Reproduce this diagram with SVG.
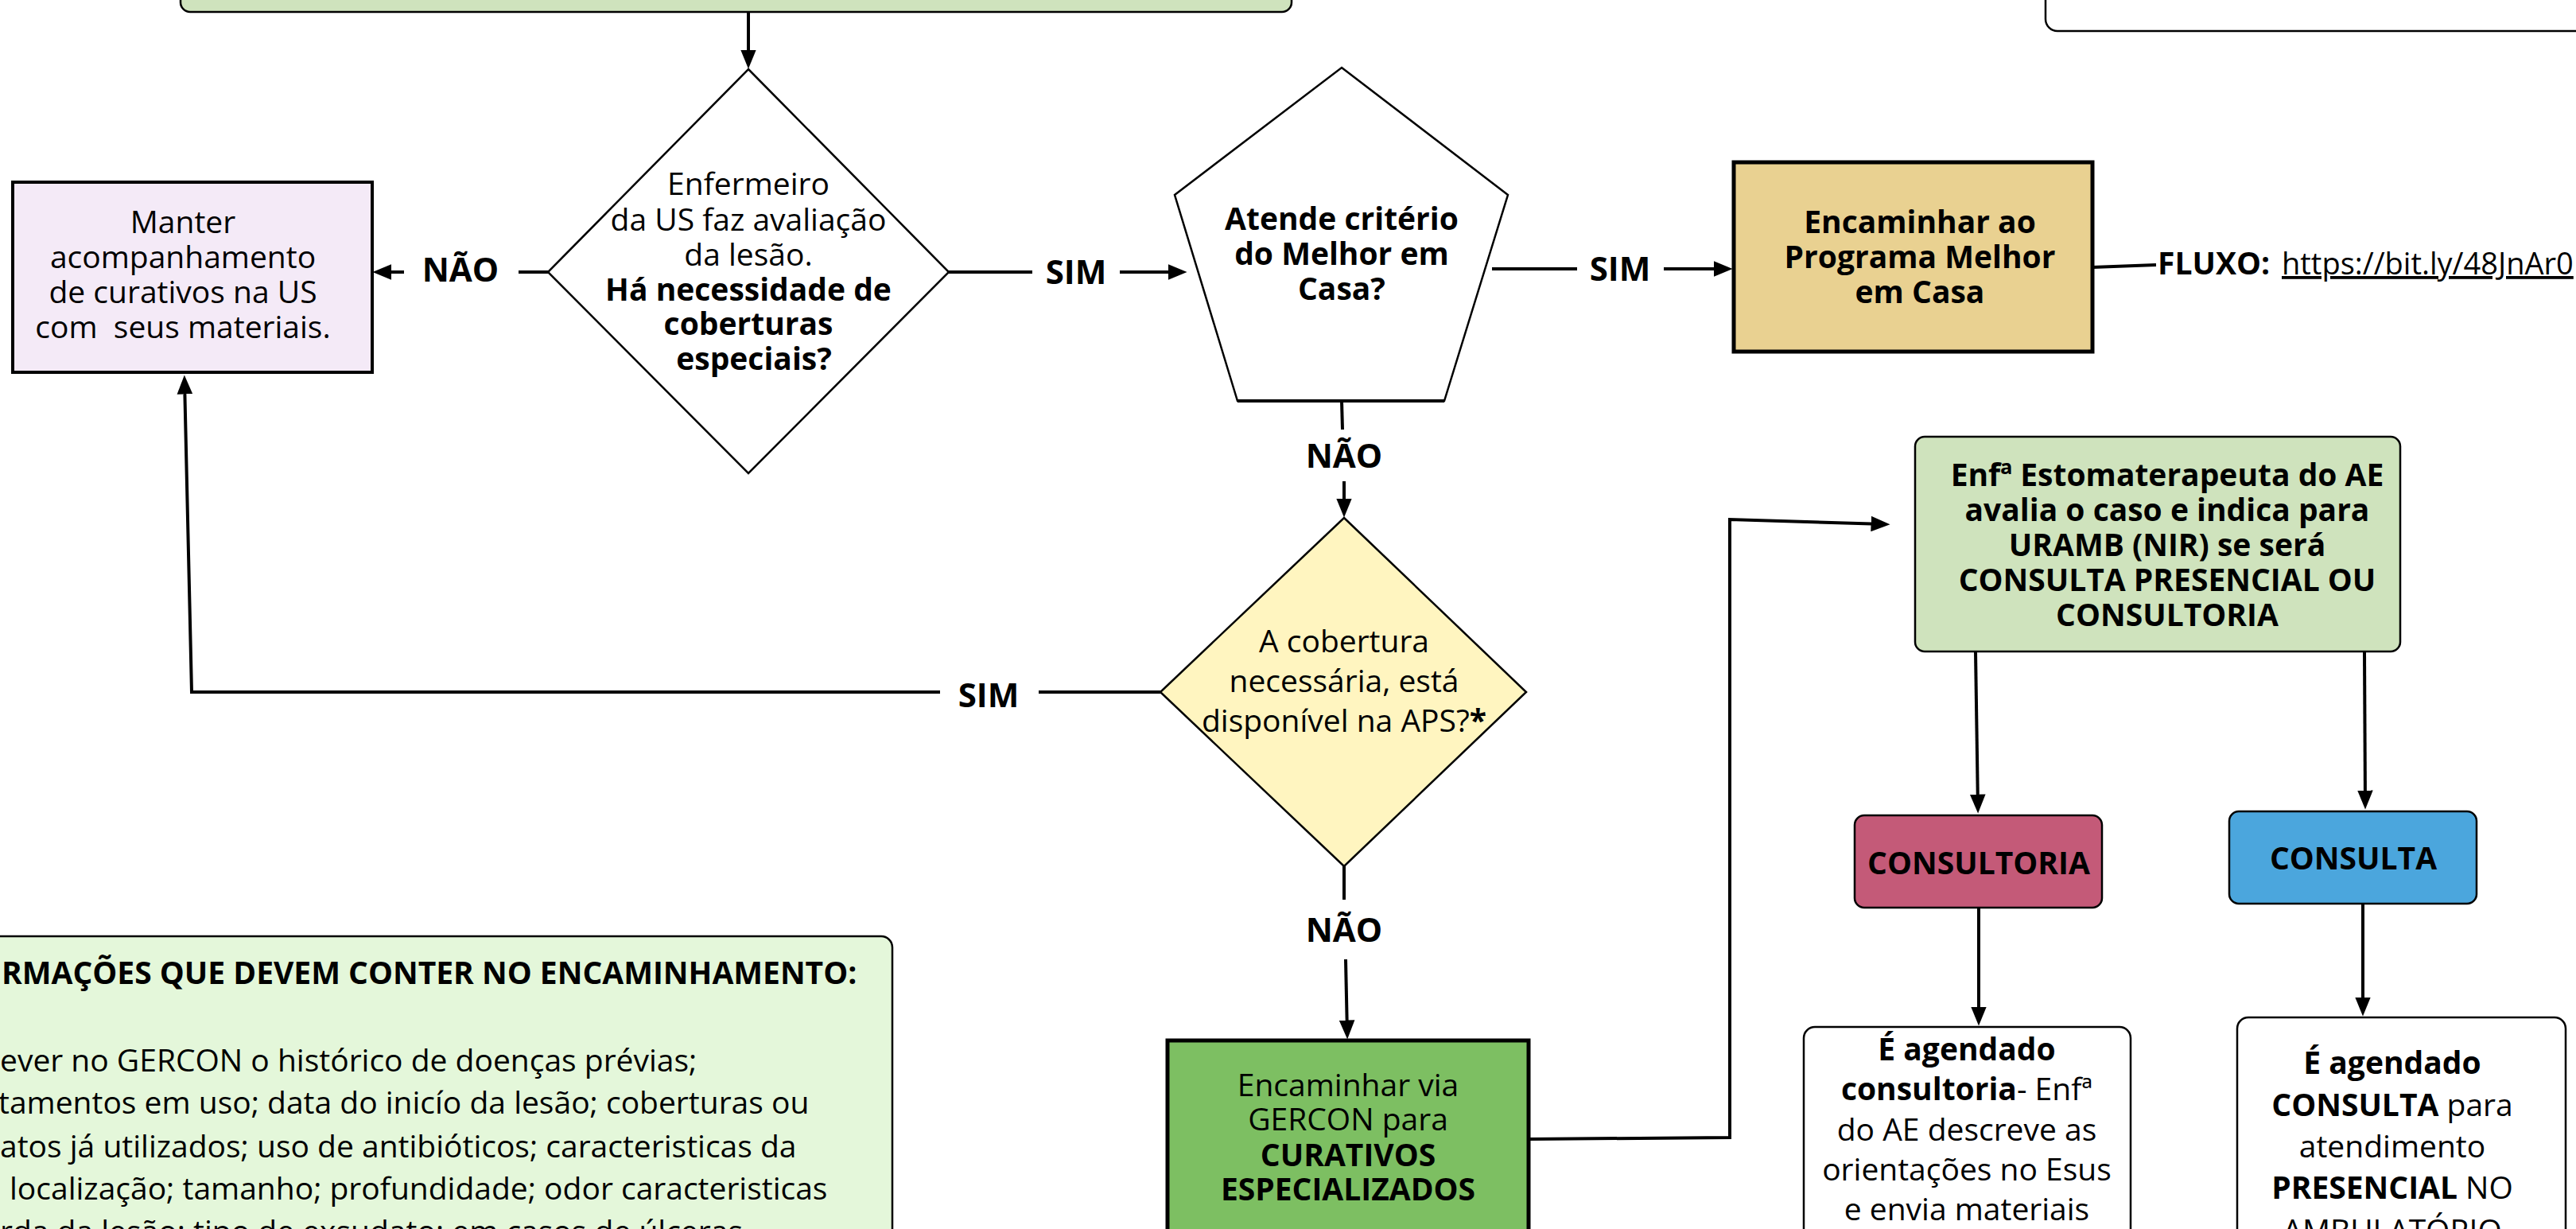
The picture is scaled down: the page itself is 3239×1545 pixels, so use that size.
<svg xmlns="http://www.w3.org/2000/svg" width="3239" height="1545" viewBox="0 0 3239 1545">
<style>
text{font-family:"Open Sans","Liberation Sans",sans-serif;font-size:39px;fill:#000}
.c{text-anchor:middle}
.b{font-weight:bold}
.lbl{font-weight:bold;font-size:42px;text-anchor:middle}
.ln{fill:none;stroke:#000;stroke-width:4}
.arr{fill:none;stroke:#000;stroke-width:4;marker-end:url(#ah)}
</style>
<defs>
<marker id="ah" markerUnits="userSpaceOnUse" markerWidth="24" markerHeight="20" viewBox="0 0 22 18" refX="16" refY="9" orient="auto">
<path d="M0,0 L22,9 L0,18 z" fill="#000"/>
</marker>
</defs>

<g id="top-box">
<rect x="227" y="-40" width="1397" height="55" rx="12" fill="#cfe3bd" stroke="#000" stroke-width="2.5"/>
</g>
<g id="top-right-box">
<rect x="2572" y="-40" width="720" height="79" rx="15" fill="#fff" stroke="#000" stroke-width="2.5"/>
</g>

<g id="manter">
<rect x="16" y="229" width="452" height="239" fill="#f4eaf7" stroke="#000" stroke-width="4"/>
<text class="c" x="230" y="293">Manter</text>
<text class="c" x="230" y="337">acompanhamento</text>
<text class="c" x="230" y="381">de curativos na US</text>
<text class="c" x="230" y="425" xml:space="preserve">com  seus materiais.</text>
</g>

<g id="diamond1">
<polygon points="941,87 1193,342 941,595 689,342" fill="#fff" stroke="#000" stroke-width="2.5"/>
<text class="c" x="941" y="245">Enfermeiro</text>
<text class="c" x="941" y="290">da US faz avaliação</text>
<text class="c" x="941" y="334">da lesão.</text>
<text class="c b" x="941" y="378">Há necessidade de</text>
<text class="c b" x="941" y="421">coberturas</text>
<text class="c b" x="948" y="465">especiais?</text>
</g>

<g id="pentagon">
<polygon points="1687,85 1896,245 1816,504 1556,504 1477,245" fill="#fff" stroke="#000" stroke-width="2.5"/>
<line x1="1556" y1="504" x2="1816" y2="504" stroke="#000" stroke-width="4"/>
<text class="c b" x="1687" y="289">Atende critério</text>
<text class="c b" x="1687" y="333">do Melhor em</text>
<text class="c b" x="1687" y="377">Casa?</text>
</g>

<g id="melhor-em-casa">
<rect x="2180" y="204" width="451" height="238" fill="#e9d191" stroke="#000" stroke-width="5"/>
<text class="c b" x="2414" y="293">Encaminhar ao</text>
<text class="c b" x="2414" y="337">Programa Melhor</text>
<text class="c b" x="2414" y="381">em Casa</text>
</g>

<g id="fluxo">
<text class="b" x="2713" y="345">FLUXO:</text>
<text x="2869" y="345" style="font-size:38px;text-decoration:underline">https://bit.ly/48JnAr0</text>
</g>

<g id="diamond2">
<polygon points="1690,651 1919,870 1690,1089 1459,870" fill="#fff5c0" stroke="#000" stroke-width="2.5"/>
<text class="c" x="1690" y="820">A cobertura</text>
<text class="c" x="1690" y="870">necessária, está</text>
<text class="c" x="1690" y="920">disponível na APS?<tspan class="b">*</tspan></text>
</g>

<g id="curativos">
<rect x="1468" y="1308" width="454" height="260" fill="#7dbf62" stroke="#000" stroke-width="5"/>
<text class="c" x="1695" y="1378">Encaminhar via</text>
<text class="c" x="1695" y="1421">GERCON para</text>
<text class="c b" x="1695" y="1466">CURATIVOS</text>
<text class="c b" x="1695" y="1509">ESPECIALIZADOS</text>
</g>

<g id="estomaterapeuta">
<rect x="2408" y="549" width="610" height="270" rx="12" fill="#cfe3bd" stroke="#000" stroke-width="2.5"/>
<text class="c b" x="2725" y="611">Enfª Estomaterapeuta do AE</text>
<text class="c b" x="2725" y="655">avalia o caso e indica para</text>
<text class="c b" x="2725" y="699">URAMB (NIR) se será</text>
<text class="c b" x="2725" y="743">CONSULTA PRESENCIAL OU</text>
<text class="c b" x="2725" y="787">CONSULTORIA</text>
</g>

<g id="consultoria">
<rect x="2332" y="1025" width="311" height="116" rx="12" fill="#c45a78" stroke="#000" stroke-width="2.5"/>
<text class="c b" x="2488" y="1099">CONSULTORIA</text>
</g>

<g id="consulta">
<rect x="2803" y="1020" width="311" height="116" rx="12" fill="#4ba6dd" stroke="#000" stroke-width="2.5"/>
<text class="c b" x="2959" y="1093">CONSULTA</text>
</g>

<g id="agendado-consultoria">
<rect x="2268" y="1291" width="411" height="300" rx="14" fill="#fff" stroke="#000" stroke-width="2.5"/>
<text class="c b" x="2473" y="1333">É agendado</text>
<text class="c" x="2473" y="1383"><tspan class="b">consultoria</tspan>- Enfª</text>
<text class="c" x="2473" y="1434">do AE descreve as</text>
<text class="c" x="2473" y="1484">orientações no Esus</text>
<text class="c" x="2473" y="1534">e envia materiais</text>
</g>

<g id="agendado-consulta">
<rect x="2813" y="1279" width="413" height="320" rx="14" fill="#fff" stroke="#000" stroke-width="2.5"/>
<text class="c b" x="3008" y="1350">É agendado</text>
<text class="c" x="3008" y="1403"><tspan class="b">CONSULTA</tspan> para</text>
<text class="c" x="3008" y="1455">atendimento</text>
<text class="c" x="3008" y="1507"><tspan class="b">PRESENCIAL</tspan> NO</text>
<text class="c" x="3008" y="1561">AMBULATÓRIO</text>
</g>

<g id="info-box">
<rect x="-30" y="1177" width="1152" height="420" rx="14" fill="#e4f7da" stroke="#000" stroke-width="2.5"/>
<text class="b" x="2" y="1237">RMAÇÕES QUE DEVEM CONTER NO ENCAMINHAMENTO:</text>
<text x="0" y="1347">ever no GERCON o histórico de doenças prévias;</text>
<text x="-2" y="1400">tamentos em uso; data do inicío da lesão; coberturas ou</text>
<text x="0" y="1455">atos já utilizados; uso de antibióticos; caracteristicas da</text>
<text x="12" y="1508">localização; tamanho; profundidade; odor caracteristicas</text>
<text x="0" y="1562">rda da lesão; tipo de exsudato; em casos de úlceras</text>
</g>

<g id="connectors">
<line class="arr" x1="941" y1="15" x2="941" y2="80"/>
<line class="ln" x1="689" y1="342" x2="652" y2="342"/>
<line class="arr" x1="508" y1="342" x2="475" y2="342"/>
<line class="ln" x1="1193" y1="342" x2="1298" y2="342"/>
<line class="arr" x1="1408" y1="342" x2="1486" y2="342"/>
<line class="ln" x1="1876" y1="338" x2="1983" y2="338"/>
<line class="arr" x1="2092" y1="338" x2="2172" y2="338"/>
<line class="ln" x1="2631" y1="336" x2="2711" y2="333"/>
<line class="ln" x1="1687" y1="504" x2="1688" y2="540"/>
<line class="arr" x1="1690" y1="605" x2="1690" y2="644"/>
<line class="ln" x1="1459" y1="870" x2="1306" y2="870"/>
<polyline class="arr" points="1182,870 241,870 232,478"/>
<line class="ln" x1="1690" y1="1089" x2="1690" y2="1131"/>
<line class="arr" x1="1692" y1="1206" x2="1694" y2="1300"/>
<polyline class="arr" points="1922,1432 2175,1430 2175,653 2370,659"/>
<line class="arr" x1="2484" y1="819" x2="2487" y2="1016"/>
<line class="arr" x1="2973" y1="819" x2="2974" y2="1011"/>
<line class="arr" x1="2488" y1="1141" x2="2488" y2="1283"/>
<line class="arr" x1="2971" y1="1136" x2="2971" y2="1271"/>
<text class="lbl" x="579" y="354">NÃO</text>
<text class="lbl" x="1353" y="357">SIM</text>
<text class="lbl" x="2037" y="353">SIM</text>
<text class="lbl" x="1690" y="588">NÃO</text>
<text class="lbl" x="1243" y="889">SIM</text>
<text class="lbl" x="1690" y="1184">NÃO</text>
</g>
</svg>
